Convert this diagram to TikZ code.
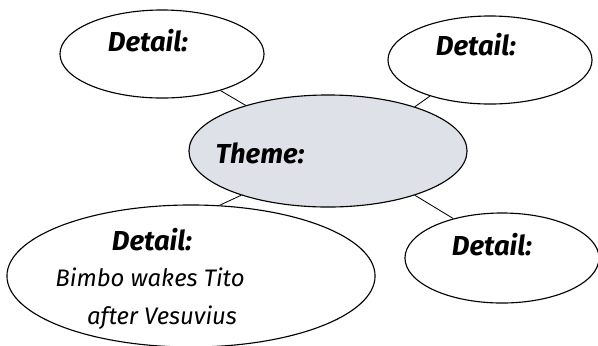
\documentclass[tikz,border=0pt]{standalone}
\usepackage{fontspec}
\setsansfont{Fira Sans}
\usetikzlibrary{shapes.geometric}

\definecolor{themefill}{HTML}{DFE1E8}

\begin{document}
\begin{tikzpicture}[x=0.025cm, y=-0.025cm,
    bubble/.style={ellipse, draw, line width=0.8pt, inner sep=0pt},
    link/.style={line width=0.6pt},
    head/.style={font=\sffamily\itshape\bfseries\fontsize{19.5}{22}\selectfont},
    note/.style={font=\sffamily\itshape\fontsize{17}{20}\selectfont}
  ]
    \useasboundingbox (0,0) rectangle (598,345);

    % bubbles
    \node[bubble, minimum width=5.1cm, minimum height=2.2cm] (tl) at (162,54) {};
    \node[bubble, minimum width=5.1cm, minimum height=2.2cm] (tr) at (490,60) {};
    \node[bubble, fill=themefill, minimum width=6.95cm, minimum height=2.8cm] (theme) at (328,151) {};
    \node[bubble, minimum width=9.2cm, minimum height=3.55cm] (bl) at (191,276) {};
    \node[bubble, minimum width=4.85cm, minimum height=2.25cm] (br) at (502,258) {};

    % links
    \draw[link] (tl.-32.7) -- (theme.151.4);
    \draw[link] (theme.27.3) -- (tr.211.7);
    \draw[link] (theme.207.6) -- (bl.68.3);
    \draw[link] (theme.-27.9) -- (br.141);

    % texts
    \node[head] (tltext) at (148,41) {Detail:};
    \node[head] (trtext) at (476,45) {Detail:};
    \node[head] (themetext) at (260,153) {Theme:};
    \node[head] (bltext) at (152,240) {Detail:};
    \node[note] (blline1) at (150,277) {Bimbo wakes Tito};
    \node[note] (blline2) at (162,318) {after Vesuvius};
    \node[head] (brtext) at (492,245) {Detail:};
\end{tikzpicture}
\end{document}
